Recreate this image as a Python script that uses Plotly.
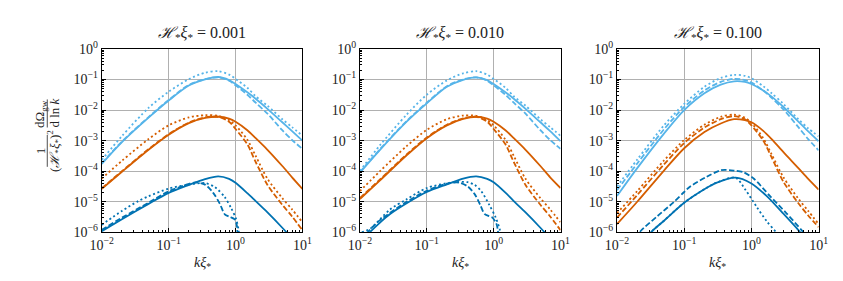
import plotly.graph_objects as go

# ---------------- data (log10 of dOmega/dlnk /(H xi)^2) -------------
K = [0.01, 0.02, 0.05, 0.1, 0.2, 0.35, 0.55, 0.8, 1.0, 1.5, 2.0, 3.0, 5.0, 7.0, 10.0]

titles = ["0.001", "0.010", "0.100"]

# panel 1 (H xi = 0.001)
p1_lb_solid = [-3.76, -3.05, -2.25, -1.69, -1.20, -1.00, -0.92, -1.02, -1.15, -1.42, -1.63, -1.96, -2.40, -2.69, -3.00]
p1_lb_dash = [-3.74, -3.03, -2.23, -1.67, -1.18, -0.99, -0.93, -1.04, -1.19, -1.50, -1.76, -2.12, -2.66, -2.98, -3.27]
p1_lb_dot = [-3.63, -2.85, -1.93, -1.40, -0.99, -0.78, -0.73, -0.84, -0.98, -1.27, -1.55, -1.86, -2.30, -2.56, -2.84]
p1_or_solid = [-4.58, -4.02, -3.30, -2.81, -2.43, -2.26, -2.22, -2.28, -2.38, -2.66, -2.92, -3.30, -3.83, -4.20, -4.58]
p1_or_dash = [-4.56, -4.00, -3.28, -2.79, -2.41, -2.24, -2.22, -2.38, -2.62, -3.12, -3.70, -4.45, -5.10, -5.48, -5.93]
p1_or_dot = [-4.24, -3.66, -2.95, -2.50, -2.24, -2.17, -2.19, -2.33, -2.50, -2.97, -3.50, -4.25, -4.88, -5.25, -5.67]
p1_db_solid_k = [0.01, 0.02, 0.05, 0.1, 0.2, 0.35, 0.55, 0.8, 1.0, 1.5, 2.0, 3.0, 5.0, 7.0]
p1_db_solid = [-5.96, -5.57, -5.07, -4.71, -4.45, -4.26, -4.17, -4.25, -4.38, -4.72, -4.98, -5.35, -5.85, -6.20]
p1_db_dash_k = [0.01, 0.02, 0.05, 0.1, 0.18, 0.25, 0.35, 0.46, 0.58, 0.69, 0.81, 0.96, 1.04, 1.07]
p1_db_dash = [-5.92, -5.52, -5.03, -4.66, -4.45, -4.37, -4.44, -4.70, -5.06, -5.41, -5.49, -5.57, -5.75, -6.10]
p1_db_dot_k = [0.01, 0.02, 0.035, 0.05, 0.1, 0.2, 0.35, 0.49, 0.69, 0.86, 1.02, 1.1, 1.13]
p1_db_dot = [-5.75, -5.30, -4.98, -4.82, -4.57, -4.44, -4.39, -4.52, -4.85, -5.21, -5.57, -5.87, -6.10]

# panel 2 (H xi = 0.010)
p2_lb_solid = [-4.05, -3.30, -2.38, -1.78, -1.24, -1.01, -0.93, -1.02, -1.15, -1.42, -1.63, -1.96, -2.40, -2.69, -3.02]
p2_lb_dash = [-4.03, -3.28, -2.36, -1.76, -1.22, -1.00, -0.93, -1.04, -1.19, -1.50, -1.76, -2.12, -2.66, -2.98, -3.27]
p2_lb_dot = [-3.99, -3.15, -2.15, -1.50, -1.03, -0.80, -0.73, -0.84, -0.98, -1.27, -1.55, -1.86, -2.30, -2.56, -2.84]
p2_or_solid = [-4.91, -4.30, -3.48, -2.92, -2.50, -2.29, -2.22, -2.28, -2.38, -2.66, -2.92, -3.30, -3.83, -4.20, -4.55]
p2_or_dash = [-4.88, -4.27, -3.45, -2.90, -2.48, -2.27, -2.22, -2.38, -2.62, -3.12, -3.70, -4.45, -5.10, -5.48, -5.93]
p2_or_dot = [-4.65, -4.00, -3.18, -2.65, -2.30, -2.18, -2.19, -2.33, -2.50, -2.97, -3.50, -4.25, -4.88, -5.25, -5.67]
p2_db_solid_k = [0.01, 0.0145, 0.02, 0.028, 0.05, 0.1, 0.2, 0.35, 0.55, 0.8, 1.0, 1.5, 2.0, 3.0, 5.0, 7.0]
p2_db_solid = [-6.35, -5.97, -5.68, -5.41, -5.05, -4.68, -4.43, -4.24, -4.17, -4.25, -4.36, -4.70, -4.98, -5.35, -5.85, -6.20]
p2_db_dash_k = [0.0125, 0.015, 0.02, 0.05, 0.1, 0.2, 0.3, 0.41, 0.52, 0.63, 0.73, 0.85, 0.96, 1.1, 1.15, 1.18]
p2_db_dash = [-6.05, -5.85, -5.60, -5.00, -4.64, -4.41, -4.37, -4.50, -4.75, -5.10, -5.40, -5.47, -5.52, -5.72, -5.90, -6.10]
p2_db_dot_k = [0.0107, 0.0145, 0.028, 0.05, 0.1, 0.24, 0.41, 0.52, 0.65, 0.86, 1.07, 1.24, 1.28]
p2_db_dot = [-6.00, -5.87, -5.26, -4.92, -4.55, -4.37, -4.36, -4.45, -4.65, -5.10, -5.51, -5.92, -6.10]

# panel 3 (H xi = 0.100)
p3_lb_solid = [-4.81, -3.90, -2.77, -2.00, -1.45, -1.17, -1.06, -1.08, -1.15, -1.36, -1.56, -1.90, -2.38, -2.70, -3.02]
p3_lb_dash = [-4.62, -3.75, -2.63, -1.90, -1.36, -1.08, -0.98, -1.02, -1.10, -1.36, -1.60, -1.98, -2.56, -2.95, -3.32]
p3_lb_dot = [-4.50, -3.62, -2.50, -1.80, -1.24, -0.95, -0.85, -0.88, -0.96, -1.22, -1.45, -1.80, -2.30, -2.60, -2.86]
p3_or_solid = [-5.73, -5.00, -3.98, -3.25, -2.72, -2.44, -2.30, -2.33, -2.40, -2.68, -2.95, -3.38, -3.90, -4.25, -4.60]
p3_or_dash = [-5.52, -4.78, -3.78, -3.08, -2.57, -2.30, -2.20, -2.30, -2.50, -3.00, -3.55, -4.35, -5.05, -5.45, -5.83]
p3_or_dot = [-5.37, -4.65, -3.65, -2.98, -2.48, -2.22, -2.15, -2.25, -2.42, -2.92, -3.45, -4.20, -4.90, -5.30, -5.73]
p3_db_solid_k = [0.028, 0.032, 0.05, 0.1, 0.214, 0.3, 0.58, 1.0, 1.68, 2.93, 5.1, 6.0]
p3_db_solid = [-6.20, -6.00, -5.62, -5.03, -4.55, -4.38, -4.21, -4.40, -4.81, -5.37, -5.95, -6.15]
p3_db_dash_k = [0.019, 0.022, 0.04, 0.07, 0.1, 0.123, 0.214, 0.35, 0.55, 0.77, 1.08, 1.88, 3.3, 5.7, 6.5]
p3_db_dash = [-6.20, -5.98, -5.47, -5.01, -4.68, -4.50, -4.19, -3.97, -3.98, -4.04, -4.24, -4.81, -5.37, -5.95, -6.10]
p3_db_dot_k = [0.028, 0.032, 0.05, 0.1, 0.214, 0.3, 0.58, 0.81, 1.2, 1.68, 2.34, 2.6]
p3_db_dot = [-6.20, -6.00, -5.62, -5.03, -4.55, -4.38, -4.21, -4.60, -5.17, -5.63, -6.00, -6.15]

panels = [
    [(K, p1_lb_solid, "lb", "solid"), (K, p1_lb_dash, "lb", "dash"), (K, p1_lb_dot, "lb", "dot"),
     (K, p1_or_solid, "or", "solid"), (K, p1_or_dash, "or", "dash"), (K, p1_or_dot, "or", "dot"),
     (p1_db_solid_k, p1_db_solid, "db", "solid"), (p1_db_dash_k, p1_db_dash, "db", "dash"),
     (p1_db_dot_k, p1_db_dot, "db", "dot")],
    [(K, p2_lb_solid, "lb", "solid"), (K, p2_lb_dash, "lb", "dash"), (K, p2_lb_dot, "lb", "dot"),
     (K, p2_or_solid, "or", "solid"), (K, p2_or_dash, "or", "dash"), (K, p2_or_dot, "or", "dot"),
     (p2_db_solid_k, p2_db_solid, "db", "solid"), (p2_db_dash_k, p2_db_dash, "db", "dash"),
     (p2_db_dot_k, p2_db_dot, "db", "dot")],
    [(K, p3_lb_solid, "lb", "solid"), (K, p3_lb_dash, "lb", "dash"), (K, p3_lb_dot, "lb", "dot"),
     (K, p3_or_solid, "or", "solid"), (K, p3_or_dash, "or", "dash"), (K, p3_or_dot, "or", "dot"),
     (p3_db_solid_k, p3_db_solid, "db", "solid"), (p3_db_dash_k, p3_db_dash, "db", "dash"),
     (p3_db_dot_k, p3_db_dot, "db", "dot")],
]

x_tickvals = [0.01, 0.1, 1, 10]
x_ticktext = ["10<sup>\u22122</sup>", "10<sup>\u22121</sup>", "10<sup>0</sup>", "10<sup>1</sup>"]
y_tickvals = [1e-6, 1e-5, 1e-4, 1e-3, 1e-2, 1e-1, 1]
y_ticktext = ["10<sup>\u22126</sup>", "10<sup>\u22125</sup>", "10<sup>\u22124</sup>", "10<sup>\u22123</sup>",
              "10<sup>\u22122</sup>", "10<sup>\u22121</sup>", "10<sup>0</sup>"]
minor_mult = [2, 3, 4, 5, 6, 7, 8, 9]

# ---------------- styling ----------------
W, H = 843, 281
colors = {"lb": "#56B4E9", "or": "#D55E00", "db": "#0072B2"}
dashes = {"solid": "solid", "dash": "5.5px,2.4px", "dot": "2px,2.6px"}
FONT = "Liberation Serif"

x_px = [(84, 290), (349, 555), (613, 820)]
y_top, y_bot = 33, 229

x_minor = [m * d for d in x_tickvals[:-1] for m in minor_mult]
y_minor = [m * d for d in y_tickvals[:-1] for m in minor_mult]

fig = go.Figure()
for i, curves in enumerate(panels):
    sfx = "" if i == 0 else str(i + 1)
    for kx, vals, c, d in curves:
        fig.add_trace(go.Scatter(
            x=kx, y=[10 ** v for v in vals], mode="lines",
            line=dict(color=colors[c], width=1.8, dash=dashes[d], shape="spline", smoothing=0.8),
            xaxis="x" + sfx, yaxis="y" + sfx, showlegend=False, hoverinfo="skip"))

axis_common = dict(type="log", showline=True, linecolor="black", linewidth=1, mirror=True,
                   ticks="inside", ticklen=4, tickwidth=1, tickcolor="black",
                   showgrid=True, gridcolor="#b0b0b0", gridwidth=1, zeroline=False,
                   tickfont=dict(family=FONT, size=14, color="#222"))

layout = dict(width=W, height=H, margin=dict(l=0, r=0, t=0, b=0),
              paper_bgcolor="white", plot_bgcolor="white", showlegend=False)
annotations = []
shapes = []
for i in range(3):
    sfx = "" if i == 0 else str(i + 1)
    x0, x1 = x_px[i]
    layout["xaxis" + sfx] = dict(axis_common, domain=[x0 / W, x1 / W], range=[-2, 1],
                                 tickmode="array", tickvals=x_tickvals, ticktext=x_ticktext,
                                 minor=dict(tickmode="array", tickvals=x_minor, ticks="inside",
                                            ticklen=2, tickwidth=0.8, tickcolor="black", showgrid=False),
                                 anchor="y" + sfx)
    layout["yaxis" + sfx] = dict(axis_common, domain=[1 - y_bot / H, 1 - y_top / H], range=[-6, 0],
                                 tickmode="array", tickvals=y_tickvals, ticktext=y_ticktext,
                                 minor=dict(tickmode="array", tickvals=y_minor, ticks="inside",
                                            ticklen=2, tickwidth=0.8, tickcolor="black", showgrid=False),
                                 anchor="x" + sfx)
    xc = (x0 + x1) / 2 / W
    annotations.append(dict(text="<i>\u210B</i><sub>*</sub><i>\u03BE</i><sub>*</sub> = " + titles[i],
                            x=xc, y=1 - 17 / H, xref="paper", yref="paper", showarrow=False,
                            xanchor="center", yanchor="middle",
                            font=dict(family=FONT, size=16, color="#222")))
    annotations.append(dict(text="<i>k\u03BE</i><sub>*</sub>",
                            x=xc, y=1 - 262 / H, xref="paper", yref="paper", showarrow=False,
                            xanchor="center", yanchor="middle",
                            font=dict(family=FONT, size=14, color="#222")))

# y-axis label: 1/(H xi)^2 * dOmega/dlnk as two stacked fractions (rotated)
ylab = [("d\u03A9<sub>gw</sub>", 21, 102), ("d ln <i>k</i>", 35, 102),
        ("1", 21, 142), ("(<i>\u210B</i><sub>*</sub><i>\u03BE</i><sub>*</sub>)<sup>2</sup>", 35, 142)]
for txt, px, py in ylab:
    annotations.append(dict(text=txt, x=px / W, y=1 - py / H, xref="paper", yref="paper",
                            showarrow=False, textangle=-90, xanchor="center", yanchor="middle",
                            font=dict(family=FONT, size=13, color="#222")))
for ya, yb in [(87, 117), (125, 159)]:
    shapes.append(dict(type="line", xref="paper", yref="paper", x0=28 / W, x1=28 / W,
                       y0=1 - ya / H, y1=1 - yb / H, line=dict(color="#222", width=0.8)))

layout["annotations"] = annotations
layout["shapes"] = shapes
fig.update_layout(**layout)
fig.write_html("out.html")
